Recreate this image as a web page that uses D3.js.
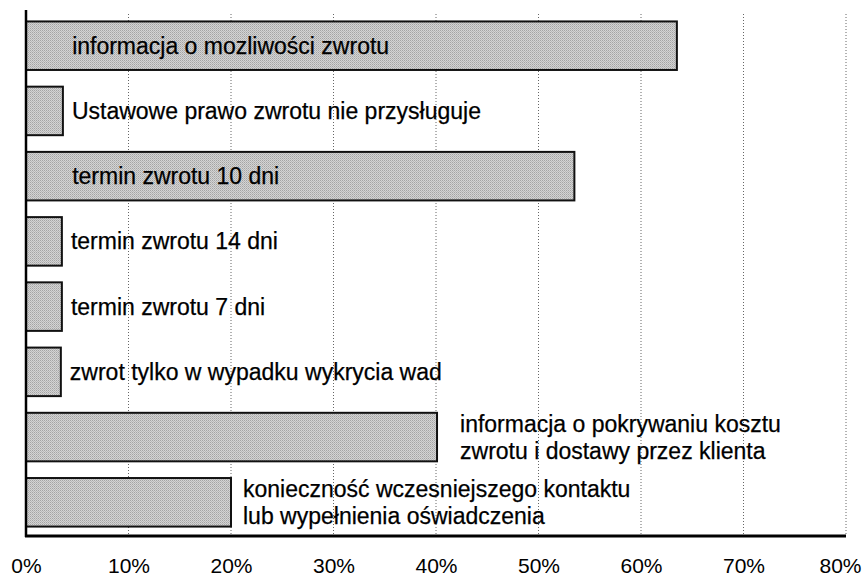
<!DOCTYPE html>
<html>
<head>
<meta charset="utf-8">
<script src="https://cdn.jsdelivr.net/npm/d3@7"></script>
<style>
  body { margin: 0; background: #fff; }
  text { font-family: "Liberation Sans", Arial, sans-serif; fill: #000; }
</style>
</head>
<body>
<svg id="chart"></svg>
<script>
const width = 866,
  height = 578;

// categories (each label may span two lines)
const labels = [
  ["informacja o mozliwości zwrotu"],
  ["Ustawowe prawo zwrotu nie przysługuje"],
  ["termin zwrotu 10 dni"],
  ["termin zwrotu 14 dni"],
  ["termin zwrotu 7 dni"],
  ["zwrot tylko w wypadku wykrycia wad"],
  ["informacja o pokrywaniu kosztu", "zwrotu i dostawy przez klienta"],
  ["konieczność wczesniejszego kontaktu", "lub wypełnienia oświadczenia"]
];
// share of shops, %
const values = [63.5, 3.6, 53.5, 3.5, 3.5, 3.4, 40.1, 20.0];
// x axis ticks
const ticks = [0, 10, 20, 30, 40, 50, 60, 70, 80];

const svg = d3.select("#chart").attr("width", width).attr("height", height);

// halftone-like grey fill
const pat = svg.append("defs").append("pattern")
  .attr("id", "dots")
  .attr("width", 2).attr("height", 2)
  .attr("patternUnits", "userSpaceOnUse");
pat.append("rect").attr("width", 2).attr("height", 2).attr("fill", "#d4d4d4");
pat.append("rect").attr("width", 1).attr("height", 1).attr("fill", "#a4a4a4");
pat.append("rect").attr("x", 1).attr("y", 1).attr("width", 1).attr("height", 1).attr("fill", "#b8b8b8");

const x = d3.scaleLinear().domain([0, 80]).range([26, 846]);
const y = d3.scaleBand()
  .domain(d3.range(values.length))
  .range([11, 537])
  .paddingInner(0.256)
  .paddingOuter(0.16);

const baseY = 536;

// dotted grid lines
svg.append("g")
  .selectAll("line")
  .data(ticks.slice(1))
  .join("line")
  .attr("x1", (d) => x(d)).attr("x2", (d) => x(d))
  .attr("y1", 14).attr("y2", baseY)
  .attr("stroke", "#666")
  .attr("stroke-width", 1)
  .attr("stroke-dasharray", "1,2");

// bars
svg.append("g")
  .selectAll("rect")
  .data(values)
  .join("rect")
  .attr("x", x(0))
  .attr("y", (d, i) => y(i))
  .attr("width", (d) => x(d) - x(0))
  .attr("height", y.bandwidth())
  .attr("fill", "url(#dots)")
  .attr("stroke", "#111")
  .attr("stroke-width", 2);

// label placement: inside long bars, right of short ones
function labelX(v, i) {
  if (v > 50) return x(4.5);
  if (v < 10) return x(v) + 9;
  return x(v) + (i === 6 ? 23 : 12);
}

const lineH = 27;
const lab = svg.append("g")
  .selectAll("text")
  .data(labels)
  .join("text")
  .attr("x", (d, i) => labelX(values[i], i))
  .attr("y", (d, i) => y(i) + y.bandwidth() / 2)
  .attr("font-size", 23)
  .attr("stroke", "#000")
  .attr("stroke-width", 0.25);

lab.selectAll("tspan")
  .data((d) => d.map((t, k) => ({ t, k, n: d.length })))
  .join("tspan")
  .attr("x", function () { return this.parentNode.getAttribute("x"); })
  .attr("dy", (d) => d.k === 0 ? (0.35 * 23 - (d.n - 1) * lineH / 2) + "px" : lineH + "px")
  .text((d) => d.t);

// axes lines
svg.append("line")
  .attr("x1", x(0)).attr("x2", x(0))
  .attr("y1", 10).attr("y2", baseY + 1)
  .attr("stroke", "#000").attr("stroke-width", 2.5);
svg.append("line")
  .attr("x1", x(0) - 1).attr("x2", x(80))
  .attr("y1", baseY).attr("y2", baseY)
  .attr("stroke", "#000").attr("stroke-width", 3);

// tick labels
const xAxis = svg.append("g")
  .attr("transform", `translate(0,${baseY})`)
  .call(d3.axisBottom(x).tickValues(ticks).tickSize(0).tickPadding(22)
    .tickFormat((d) => d + "%"));
xAxis.select(".domain").remove();
xAxis.selectAll("text")
  .attr("font-size", 21)
  .attr("font-family", "Liberation Sans, Arial, sans-serif")
  .attr("fill", "#000")
  .attr("dx", (d) => d === 80 ? -6 : 0);
</script>
</body>
</html>
